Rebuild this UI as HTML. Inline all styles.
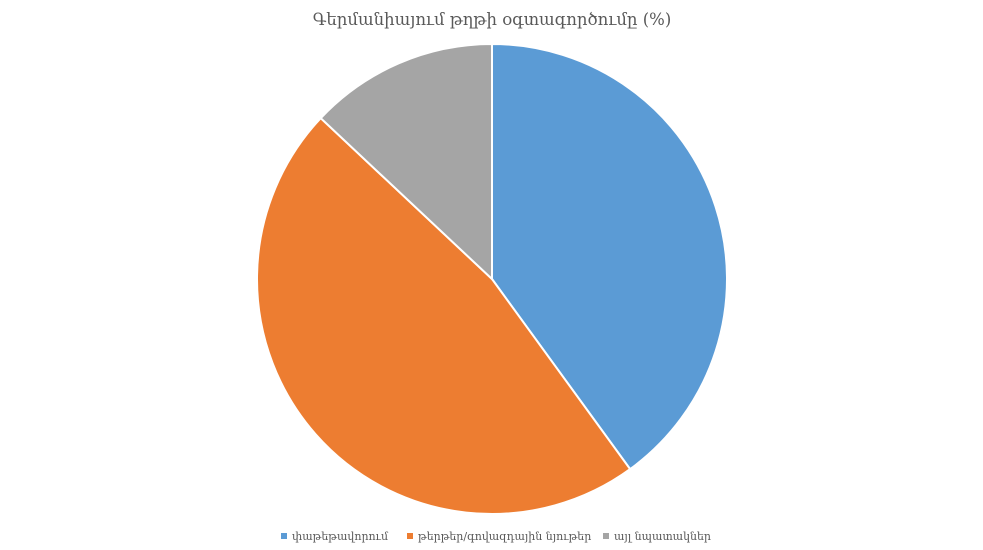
<!DOCTYPE html>
<html><head><meta charset="utf-8"><style>
body{margin:0;background:#fff;}
svg{display:block;font-family:"DejaVu Serif","Liberation Serif",serif;}
</style></head><body>
<svg id="chart" width="983" height="550">
<text x="492" y="25" text-anchor="middle" font-size="16.5" fill="#595959">Գերմանիայում թղթի օգտագործումը (%)</text>
<g id="slices"></g>
<g id="legend"></g>
</svg>
<script>
const categories=["փաթեթավորում","թերթեր/գովազդային նյութեր","այլ նպատակներ"];
const values=[40,47,13];
const colors=["#5b9bd5","#ed7d31","#a5a5a5"];
const legendX=[284,410,606];
const cx=492,cy=279,r=235;
const ns="http://www.w3.org/2000/svg";
const total=values.reduce((a,b)=>a+b,0);
let a0=0;
const g=document.getElementById('slices');
values.forEach((v,i)=>{
  const a1=a0+v/total*2*Math.PI;
  const x0=cx+r*Math.sin(a0),y0=cy-r*Math.cos(a0),x1=cx+r*Math.sin(a1),y1=cy-r*Math.cos(a1);
  const p=document.createElementNS(ns,'path');
  p.setAttribute('d',`M${cx},${cy}L${x0},${y0}A${r},${r} 0 ${a1-a0>Math.PI?1:0} 1 ${x1},${y1}Z`);
  p.setAttribute('fill',colors[i]);p.setAttribute('stroke','#fff');p.setAttribute('stroke-width','2');
  
  
  g.appendChild(p);a0=a1;
});
const lg=document.getElementById('legend');
categories.forEach((c,i)=>{
  const rc=document.createElementNS(ns,'rect');
  rc.setAttribute('x',legendX[i]-3);rc.setAttribute('y',533);rc.setAttribute('width',6);rc.setAttribute('height',6);rc.setAttribute('fill',colors[i]);
  
  
  lg.appendChild(rc);
  const t=document.createElementNS(ns,'text');
  t.setAttribute('x',legendX[i]+8);t.setAttribute('y',540);t.setAttribute('font-size','11');t.setAttribute('fill','#595959');
  t.textContent=c;
  
  
  lg.appendChild(t);
});
</script>
</body></html>
